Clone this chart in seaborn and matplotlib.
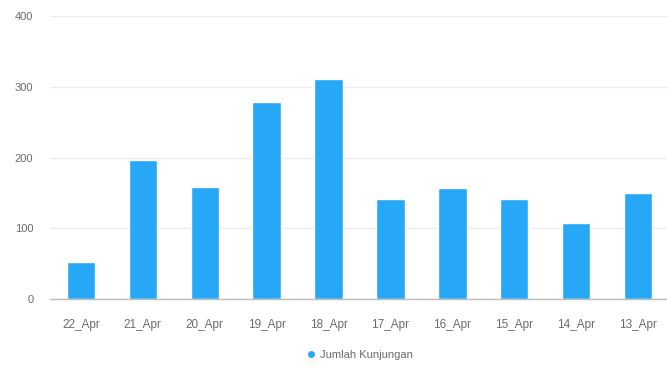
import matplotlib
matplotlib.use("Agg")
import matplotlib.pyplot as plt
from matplotlib.lines import Line2D
import seaborn as sns
import pandas as pd

# Daily visit counts
dates = ["22_Apr", "21_Apr", "20_Apr", "19_Apr", "18_Apr",
         "17_Apr", "16_Apr", "15_Apr", "14_Apr", "13_Apr"]
visits = [53, 196, 159, 278, 311, 141, 157, 141, 107, 150]
series_name = "Jumlah Kunjungan"
y_ticks = [0, 100, 200, 300, 400]

BAR_COLOR = "#27a8f6"
TEXT_COLOR = "#6b6b6b"

df = pd.DataFrame({"tanggal": dates, "kunjungan": visits})

sns.set_theme(style="white")
plt.rcParams["font.family"] = ["Liberation Sans", "DejaVu Sans"]

fig = plt.figure(figsize=(6.67, 3.67), dpi=100)
ax = fig.add_axes([0.075, 0.185, 0.928, 0.771])

sns.barplot(data=df, x="tanggal", y="kunjungan", color=BAR_COLOR,
            width=0.46, saturation=1, ax=ax, order=dates)

ax.set_ylim(0, 400)
ax.set_xlim(-0.5, 9.5)
ax.set_yticks(y_ticks)
ax.set_xlabel("")
ax.set_ylabel("")

ax.grid(axis="y", color="#ececec", linewidth=1)
ax.set_axisbelow(True)
for side in ["top", "right", "left"]:
    ax.spines[side].set_visible(False)
ax.spines["bottom"].set_color("#bdbdbd")
ax.spines["bottom"].set_linewidth(1)

ax.tick_params(axis="both", length=0, labelcolor=TEXT_COLOR)
ax.tick_params(axis="y", pad=12, labelsize=8)
ax.tick_params(axis="x", pad=14, labelsize=8.5)

handle = Line2D([], [], marker="o", linestyle="", color=BAR_COLOR, markersize=4)
ax.legend([handle], [series_name], loc="upper center",
          bbox_to_anchor=(0.5, -0.145), frameon=False, fontsize=8,
          labelcolor=TEXT_COLOR, handletextpad=0.3, handlelength=1)

fig.savefig("out.png", dpi=100)
